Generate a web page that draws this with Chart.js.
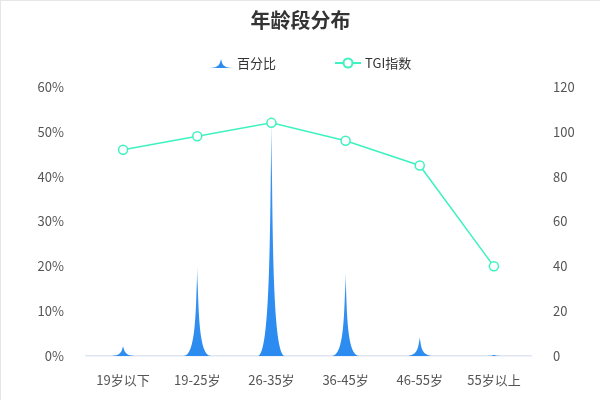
<!DOCTYPE html>
<html>
<head>
<meta charset="utf-8">
<script src="https://cdn.jsdelivr.net/npm/chart.js@4"></script>
<style>
  html, body { margin: 0; padding: 0; background: #fff; }
  #wrap { width: 600px; height: 400px; box-sizing: border-box; border-top: 1px solid #e6e6e6; border-left: 1px solid #e6e6e6; }
</style>
</head>
<body>
<div id="wrap"><canvas id="ageChart" width="599" height="399"></canvas></div>
<script>
// Data
const ageGroups = ['19岁以下', '19-25岁', '26-35岁', '36-45岁', '46-55岁', '55岁以上'];
const percentValues = [2.3, 20, 53, 18.6, 4.3, 0.3];
const tgiValues = [92, 98, 104, 96, 85, 40];
const percentTicks = [0, 10, 20, 30, 40, 50, 60];
const tgiTicks = [0, 20, 40, 60, 80, 100, 120];

const FONT = '"Noto Sans CJK SC", "Noto Sans", sans-serif';
const BLUE = '#2b8bf0';
const GREEN = '#3ef2c0';

// spike shape, same curve as echarts' pictorial "path" bar
function spikePath(ctx, left, top, w, h) {
  const X = (v) => left + (v / 10) * w;
  const Y = (v) => top + (v / 10) * h;
  ctx.beginPath();
  ctx.moveTo(X(0), Y(10));
  ctx.lineTo(X(10), Y(10));
  ctx.bezierCurveTo(X(5.5), Y(10), X(5.5), Y(5), X(5), Y(0));
  ctx.bezierCurveTo(X(4.5), Y(5), X(4.5), Y(10), X(0), Y(10));
  ctx.closePath();
}

const spikeBars = {
  id: 'spikeBars',
  beforeDatasetDraw(chart, args) {
    if (args.meta.type !== 'bar') return;
    const ctx = chart.ctx;
    ctx.save();
    args.meta.data.forEach((bar) => {
      const h = bar.base - bar.y;
      if (h <= 0) return;
      const g = ctx.createLinearGradient(0, bar.y, 0, bar.base);
      g.addColorStop(0, 'rgba(43,139,240,0.35)');
      g.addColorStop(0.25, 'rgba(43,139,240,0.95)');
      g.addColorStop(1, BLUE);
      ctx.fillStyle = g;
      spikePath(ctx, bar.x - bar.width / 2, bar.y, bar.width, h);
      ctx.fill();
    });
    ctx.restore();
    return false;
  },
};

// legend drawn by hand so the gaps match
const ownLegend = {
  id: 'ownLegend',
  afterDraw(chart) {
    const ctx = chart.ctx;
    const y = 62;
    ctx.save();
    ctx.font = '13px ' + FONT;
    ctx.textBaseline = 'middle';
    // bar icon
    ctx.fillStyle = BLUE;
    spikePath(ctx, 208, y - 4, 24, 9);
    ctx.fill();
    ctx.fillStyle = '#333';
    ctx.fillText(chart.data.datasets[0].label, 236, y);
    // line icon
    ctx.strokeStyle = GREEN;
    ctx.lineWidth = 2;
    ctx.beginPath();
    ctx.moveTo(334, y);
    ctx.lineTo(360, y);
    ctx.stroke();
    ctx.beginPath();
    ctx.arc(347, y, 4.5, 0, Math.PI * 2);
    ctx.fillStyle = '#fff';
    ctx.fill();
    ctx.stroke();
    ctx.fillStyle = '#333';
    ctx.fillText(chart.data.datasets[1].label, 364, y);
    ctx.restore();
  },
};

const ctx = document.getElementById('ageChart').getContext('2d');
const ageChart = new Chart(ctx, {
  type: 'bar',
  data: {
    labels: ageGroups,
    datasets: [
      {
        label: '百分比',
        data: percentValues,
        backgroundColor: BLUE,
        yAxisID: 'y',
        categoryPercentage: 1,
        barPercentage: 0.37,
        order: 2,
      },
      {
        type: 'line',
        label: 'TGI指数',
        data: tgiValues,
        borderColor: GREEN,
        borderWidth: 1.5,
        pointRadius: 4.5,
        pointBorderWidth: 1.5,
        pointBackgroundColor: '#fff',
        pointBorderColor: GREEN,
        tension: 0,
        yAxisID: 'y1',
        order: 1,
      },
    ],
  },
  options: {
    responsive: false,
    animation: false,
    layout: { padding: 0 },
    plugins: {
      legend: { display: false },
      tooltip: { enabled: false },
      title: {
        display: true,
        text: '年龄段分布',
        color: '#333',
        font: { family: FONT, size: 20, weight: 'bold', lineHeight: 1.2 },
        padding: { top: 7, bottom: 55 },
      },
    },
    scales: {
      x: {
        grid: { display: false },
        border: { display: true, color: '#e0e6f1', width: 1.5 },
        ticks: { color: '#555', font: { family: FONT, size: 13 }, padding: 8 },
        afterFit: (s) => { s.height = 44; },
      },
      y: {
        position: 'left',
        min: 0,
        max: 60,
        afterBuildTicks: (s) => { s.ticks = percentTicks.map((v) => ({ value: v })); },
        grid: { display: false },
        border: { display: false },
        ticks: { color: '#555', font: { family: FONT, size: 13 }, padding: 14, callback: (v) => v + '%' },
        afterFit: (s) => { s.width = 85; },
      },
      y1: {
        position: 'right',
        min: 0,
        max: 120,
        afterBuildTicks: (s) => { s.ticks = tgiTicks.map((v) => ({ value: v })); },
        grid: { display: false },
        border: { display: false },
        ticks: { color: '#555', font: { family: FONT, size: 13 }, padding: 14 },
        afterFit: (s) => { s.width = 69; },
      },
    },
  },
  plugins: [spikeBars, ownLegend],
});
</script>
</body>
</html>
